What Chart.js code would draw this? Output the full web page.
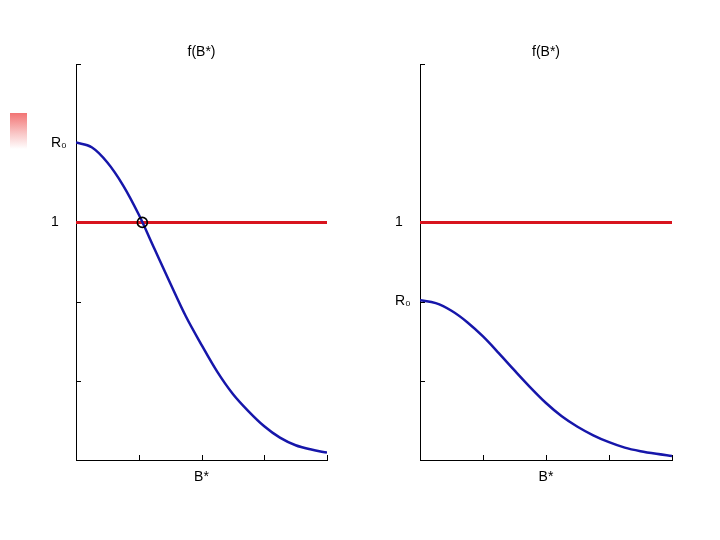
<!DOCTYPE html>
<html>
<head>
<meta charset="utf-8">
<script src="https://cdn.jsdelivr.net/npm/chart.js@4/dist/chart.umd.min.js"></script>
<style>
  html, body { margin: 0; padding: 0; background: #fff; }
  #wrap { position: relative; width: 720px; height: 540px; overflow: hidden; }
  .box { position: absolute; top: 0; width: 360px; height: 540px; }
  #bullet { position: absolute; left: 10px; top: 113px; width: 17px; height: 36px;
            background: linear-gradient(to bottom, #f27474 0%, #f9c4c4 55%, #ffffff 100%); }
</style>
</head>
<body>
<div id="wrap">
  <div id="bullet"></div>
  <div class="box" style="left:0"><canvas id="c1" width="360" height="540"></canvas></div>
  <div class="box" style="left:360px"><canvas id="c2" width="360" height="540"></canvas></div>
</div>
<script>
// ---- data ----
const titleText = 'f(B*)';
const xTitle = 'B*';
const xTickValues = [0, 1, 2, 3, 4];

const leftYTicks = [0, 1/3, 2/3, 1, 4/3, 5/3];
const leftYLabels = ['', '', '', '1', 'R\u2080', ''];
const rightYTicks = [0, 1/3, 2/3, 1, 5/3];
const rightYLabels = ['', '', 'R\u2080', '1', ''];

const leftX = [0, 0.25, 0.5, 0.75, 1.0, 1.25, 1.5, 1.75, 2.0, 2.25, 2.5, 2.75, 3.0, 3.25, 3.5, 3.75, 4.0];
const leftY = [1.336, 1.316, 1.252, 1.156, 1.033, 0.889, 0.745, 0.605, 0.485, 0.372, 0.278, 0.205, 0.142, 0.094, 0.062, 0.044, 0.031];

const rightX = [0, 0.25, 0.5, 0.75, 1.0, 1.25, 1.5, 1.75, 2.0, 2.25, 2.5, 2.75, 3.0, 3.25, 3.5, 3.75, 4.0];
const rightY = [0.672, 0.660, 0.628, 0.580, 0.520, 0.450, 0.377, 0.306, 0.240, 0.184, 0.140, 0.104, 0.075, 0.052, 0.037, 0.026, 0.017];

const oneLineX = [0, 4];
const oneLineY = [1, 1];

const markerX = [1.057];
const markerY = [1];

const RED = '#d8141e';
const BLUE = '#1616aa';
const FONT = "'Liberation Sans', Arial, sans-serif";

const zip = (xs, ys) => xs.map((x, i) => ({x: x, y: ys[i]}));

const inwardTicks = {
  id: 'inwardTicks',
  beforeDatasetsDraw(chart) {
    const ctx = chart.ctx, a = chart.chartArea;
    const xs = chart.scales.x, ys = chart.scales.y;
    ctx.save();
    ctx.strokeStyle = '#000';
    ctx.lineWidth = 1;
    ctx.beginPath();
    ys.ticks.forEach(t => {
      if (t.value === 0) return;
      const py = Math.round(ys.getPixelForValue(t.value)) + 0.5;
      ctx.moveTo(a.left, py); ctx.lineTo(a.left + 5, py);
    });
    xs.ticks.forEach(t => {
      if (t.value === 0) return;
      const px = Math.round(xs.getPixelForValue(t.value)) + 0.5;
      ctx.moveTo(px, a.bottom); ctx.lineTo(px, a.bottom - 5);
    });
    ctx.stroke();
    ctx.restore();
  }
};

function makeChart(id, curveX, curveY, yTicks, yLabels, padLeft, padRight, withMarker) {
  const datasets = [
    { data: zip(oneLineX, oneLineY), borderColor: RED, borderWidth: 3, pointRadius: 0, order: 2 },
    { data: zip(curveX, curveY), borderColor: BLUE, borderWidth: 2.5, pointRadius: 0,
      cubicInterpolationMode: 'monotone', order: 1 }
  ];
  if (withMarker) {
    datasets.push({ data: zip(markerX, markerY), showLine: false, pointRadius: 5,
      pointBorderColor: '#000', pointBorderWidth: 1.6, pointBackgroundColor: 'rgba(0,0,0,0)', order: 0 });
  }
  return new Chart(document.getElementById(id), {
    type: 'line',
    data: { datasets: datasets },
    plugins: [inwardTicks],
    options: {
      responsive: false,
      animation: false,
      devicePixelRatio: 1,
      layout: { padding: { left: padLeft, right: padRight, top: 44, bottom: 44 } },
      plugins: {
        legend: { display: false },
        tooltip: { enabled: false },
        title: { display: true, text: titleText, fullSize: false, color: '#000',
                 font: { family: FONT, size: 14, weight: 'normal' }, padding: { top: 0, bottom: 3.2 } }
      },
      scales: {
        x: {
          type: 'linear', min: 0, max: 4,
          afterBuildTicks: s => { s.ticks = xTickValues.map(v => ({ value: v })); },
          afterFit: s => { s.height = 36; },
          grid: { display: false, drawTicks: false },
          border: { display: true, color: '#000', width: 1 },
          ticks: { display: false },
          title: { display: true, text: xTitle, color: '#000',
                   font: { family: FONT, size: 14 }, padding: { top: 0, bottom: 10.6 } }
        },
        y: {
          type: 'linear', min: 0, max: 5/3,
          afterBuildTicks: s => { s.ticks = yTicks.map(v => ({ value: v })); },
          afterFit: s => { s.width = 25; },
          grid: { display: false, drawTicks: false },
          border: { display: true, color: '#000', width: 1 },
          ticks: { color: '#000', crossAlign: 'far', padding: 0, autoSkip: false,
                   font: { family: FONT, size: 14 },
                   callback: (v, i) => yLabels[i] }
        }
      }
    }
  });
}

makeChart('c1', leftX, leftY, leftYTicks, leftYLabels, 51, 33, true);
makeChart('c2', rightX, rightY, rightYTicks, rightYLabels, 35, 48, false);
</script>
</body>
</html>
